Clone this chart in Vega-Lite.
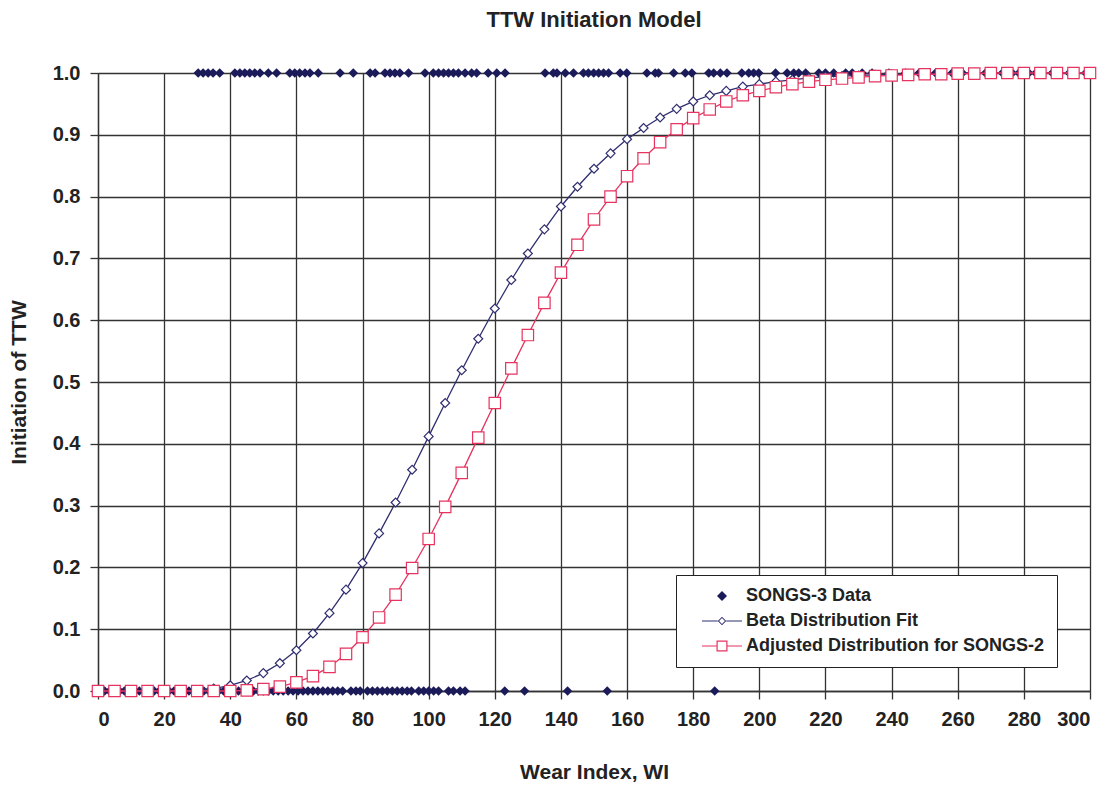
{
  "$schema": "https://vega.github.io/schema/vega-lite/v6.json",
  "width": 992,
  "height": 618,
  "autosize": {"type": "none"},
  "padding": {"left": 98, "top": 73, "right": 26, "bottom": 97},
  "background": "white",
  "title": {"text": "TTW Initiation Model", "font": "Liberation Sans", "fontSize": 22, "fontWeight": "bold", "color": "#222222", "frame": "group", "anchor": "middle", "offset": 31},
  "config": {
    "view": {"stroke": null},
    "axis": {
      "labelFont": "Liberation Sans", "labelFontSize": 20, "labelFontWeight": "bold", "labelColor": "#222222",
      "titleFont": "Liberation Sans", "titleFontSize": 21, "titleFontWeight": "bold", "titleColor": "#222222",
      "grid": true, "gridColor": "#333333", "gridWidth": 1.3, "gridOpacity": 1,
      "domainColor": "#333333", "domainWidth": 1.3,
      "tickColor": "#333333", "tickSize": 8, "tickWidth": 1.3, "labelPadding": 10
    },
    "legend": {
      "orient": "none", "legendX": 578, "legendY": 502, "title": null,
      "padding": 12, "strokeColor": "#222222", "fillColor": "white",
      "labelFont": "Liberation Sans", "labelFontSize": 18, "labelFontWeight": "bold", "labelColor": "#222222", "labelLimit": 500,
      "symbolOffset": 25, "labelOffset": 15, "rowPadding": 7, "symbolSize": 100, "symbolOpacity": 1
    }
  },
  "datasets": {
    "beta": [
      {"wi": 0, "p": 0}, {"wi": 5, "p": 0}, {"wi": 10, "p": 0}, {"wi": 15, "p": 0}, {"wi": 20, "p": 0}, {"wi": 25, "p": 0},
      {"wi": 30, "p": 0.001}, {"wi": 35, "p": 0.004}, {"wi": 40, "p": 0.009}, {"wi": 45, "p": 0.017}, {"wi": 50, "p": 0.029},
      {"wi": 55, "p": 0.045}, {"wi": 60, "p": 0.066}, {"wi": 65, "p": 0.093}, {"wi": 70, "p": 0.126}, {"wi": 75, "p": 0.164},
      {"wi": 80, "p": 0.207}, {"wi": 85, "p": 0.255}, {"wi": 90, "p": 0.305}, {"wi": 95, "p": 0.358}, {"wi": 100, "p": 0.412},
      {"wi": 105, "p": 0.466}, {"wi": 110, "p": 0.519}, {"wi": 115, "p": 0.570}, {"wi": 120, "p": 0.619}, {"wi": 125, "p": 0.665},
      {"wi": 130, "p": 0.708}, {"wi": 135, "p": 0.747}, {"wi": 140, "p": 0.784}, {"wi": 145, "p": 0.816}, {"wi": 150, "p": 0.845},
      {"wi": 155, "p": 0.870}, {"wi": 160, "p": 0.893}, {"wi": 165, "p": 0.911}, {"wi": 170, "p": 0.928}, {"wi": 175, "p": 0.942},
      {"wi": 180, "p": 0.954}, {"wi": 185, "p": 0.964}, {"wi": 190, "p": 0.971}, {"wi": 195, "p": 0.978}, {"wi": 200, "p": 0.982},
      {"wi": 205, "p": 0.986}, {"wi": 210, "p": 0.989}, {"wi": 215, "p": 0.992}, {"wi": 220, "p": 0.994}, {"wi": 225, "p": 0.995},
      {"wi": 230, "p": 0.996}, {"wi": 235, "p": 0.997}, {"wi": 240, "p": 0.998}, {"wi": 245, "p": 0.998}, {"wi": 250, "p": 0.999},
      {"wi": 255, "p": 0.999}, {"wi": 260, "p": 1}, {"wi": 265, "p": 1}, {"wi": 270, "p": 1}, {"wi": 275, "p": 1},
      {"wi": 280, "p": 1}, {"wi": 285, "p": 1}, {"wi": 290, "p": 1}, {"wi": 295, "p": 1}, {"wi": 300, "p": 1}
    ],
    "adj": [
      {"wi": 0, "p": 0}, {"wi": 5, "p": 0}, {"wi": 10, "p": 0}, {"wi": 15, "p": 0}, {"wi": 20, "p": 0}, {"wi": 25, "p": 0},
      {"wi": 30, "p": 0}, {"wi": 35, "p": 0}, {"wi": 40, "p": 0}, {"wi": 45, "p": 0.001}, {"wi": 50, "p": 0.003},
      {"wi": 55, "p": 0.007}, {"wi": 60, "p": 0.014}, {"wi": 65, "p": 0.024}, {"wi": 70, "p": 0.039}, {"wi": 75, "p": 0.060},
      {"wi": 80, "p": 0.087}, {"wi": 85, "p": 0.119}, {"wi": 90, "p": 0.156}, {"wi": 95, "p": 0.199}, {"wi": 100, "p": 0.246},
      {"wi": 105, "p": 0.298}, {"wi": 110, "p": 0.353}, {"wi": 115, "p": 0.410}, {"wi": 120, "p": 0.466}, {"wi": 125, "p": 0.522},
      {"wi": 130, "p": 0.576}, {"wi": 135, "p": 0.628}, {"wi": 140, "p": 0.677}, {"wi": 145, "p": 0.722}, {"wi": 150, "p": 0.763},
      {"wi": 155, "p": 0.800}, {"wi": 160, "p": 0.833}, {"wi": 165, "p": 0.862}, {"wi": 170, "p": 0.888}, {"wi": 175, "p": 0.909},
      {"wi": 180, "p": 0.927}, {"wi": 185, "p": 0.941}, {"wi": 190, "p": 0.954}, {"wi": 195, "p": 0.964}, {"wi": 200, "p": 0.971},
      {"wi": 205, "p": 0.977}, {"wi": 210, "p": 0.982}, {"wi": 215, "p": 0.986}, {"wi": 220, "p": 0.989}, {"wi": 225, "p": 0.991},
      {"wi": 230, "p": 0.993}, {"wi": 235, "p": 0.995}, {"wi": 240, "p": 0.996}, {"wi": 245, "p": 0.997}, {"wi": 250, "p": 0.998},
      {"wi": 255, "p": 0.998}, {"wi": 260, "p": 0.999}, {"wi": 265, "p": 0.999}, {"wi": 270, "p": 1}, {"wi": 275, "p": 1},
      {"wi": 280, "p": 1}, {"wi": 285, "p": 1}, {"wi": 290, "p": 1}, {"wi": 295, "p": 1}, {"wi": 300, "p": 1}
    ],
    "obs": [
      {"wi": 30.3, "p": 1}, {"wi": 31.8, "p": 1}, {"wi": 33.3, "p": 1}, {"wi": 34.8, "p": 1}, {"wi": 36.8, "p": 1},
      {"wi": 41.4, "p": 1}, {"wi": 42.9, "p": 1}, {"wi": 44.4, "p": 1}, {"wi": 45.9, "p": 1}, {"wi": 47.4, "p": 1},
      {"wi": 49, "p": 1}, {"wi": 51.5, "p": 1}, {"wi": 54, "p": 1}, {"wi": 58, "p": 1}, {"wi": 59.5, "p": 1},
      {"wi": 61, "p": 1}, {"wi": 62.6, "p": 1}, {"wi": 64.1, "p": 1}, {"wi": 66.6, "p": 1}, {"wi": 73.2, "p": 1},
      {"wi": 77.2, "p": 1}, {"wi": 82.3, "p": 1}, {"wi": 83.8, "p": 1}, {"wi": 86.8, "p": 1}, {"wi": 88.3, "p": 1},
      {"wi": 89.8, "p": 1}, {"wi": 91.3, "p": 1}, {"wi": 93.9, "p": 1}, {"wi": 98.9, "p": 1}, {"wi": 101.4, "p": 1},
      {"wi": 103, "p": 1}, {"wi": 104.5, "p": 1}, {"wi": 106, "p": 1}, {"wi": 107.5, "p": 1}, {"wi": 109, "p": 1},
      {"wi": 111, "p": 1}, {"wi": 113, "p": 1}, {"wi": 114.5, "p": 1}, {"wi": 118, "p": 1}, {"wi": 120.6, "p": 1},
      {"wi": 123.1, "p": 1}, {"wi": 135.2, "p": 1}, {"wi": 137.7, "p": 1}, {"wi": 138.8, "p": 1}, {"wi": 141.3, "p": 1},
      {"wi": 143.8, "p": 1}, {"wi": 146.8, "p": 1}, {"wi": 148.3, "p": 1}, {"wi": 149.9, "p": 1}, {"wi": 151.4, "p": 1},
      {"wi": 152.9, "p": 1}, {"wi": 154.4, "p": 1}, {"wi": 157.9, "p": 1}, {"wi": 159.9, "p": 1}, {"wi": 166, "p": 1},
      {"wi": 168.5, "p": 1}, {"wi": 169.5, "p": 1}, {"wi": 174.1, "p": 1}, {"wi": 177.6, "p": 1}, {"wi": 179.6, "p": 1},
      {"wi": 184.7, "p": 1}, {"wi": 186.2, "p": 1}, {"wi": 188.2, "p": 1}, {"wi": 190.2, "p": 1}, {"wi": 194.7, "p": 1},
      {"wi": 196.8, "p": 1}, {"wi": 198.3, "p": 1}, {"wi": 199.8, "p": 1}, {"wi": 204.9, "p": 1}, {"wi": 208.4, "p": 1},
      {"wi": 210.4, "p": 1}, {"wi": 211.9, "p": 1}, {"wi": 214, "p": 1}, {"wi": 218, "p": 1}, {"wi": 220, "p": 1},
      {"wi": 222.5, "p": 1}, {"wi": 226.1, "p": 1}, {"wi": 228.1, "p": 1}, {"wi": 231.1, "p": 1}, {"wi": 234.1, "p": 1},
      {"wi": 239.2, "p": 1}, {"wi": 244.2, "p": 1}, {"wi": 248.3, "p": 1}, {"wi": 250.3, "p": 1}, {"wi": 253.3, "p": 1},
      {"wi": 258.3, "p": 1}, {"wi": 261.4, "p": 1}, {"wi": 264.4, "p": 1}, {"wi": 268.4, "p": 1}, {"wi": 273.5, "p": 1},
      {"wi": 276.5, "p": 1}, {"wi": 278.5, "p": 1}, {"wi": 281.5, "p": 1}, {"wi": 283.6, "p": 1}, {"wi": 288.6, "p": 1},
      {"wi": 293.7, "p": 1}, {"wi": 298.7, "p": 1},
      {"wi": 2, "p": 0}, {"wi": 3.5, "p": 0}, {"wi": 5, "p": 0}, {"wi": 6.5, "p": 0}, {"wi": 8, "p": 0},
      {"wi": 9.5, "p": 0}, {"wi": 11, "p": 0}, {"wi": 12.5, "p": 0}, {"wi": 14, "p": 0}, {"wi": 15.5, "p": 0},
      {"wi": 17, "p": 0}, {"wi": 18.5, "p": 0}, {"wi": 20, "p": 0}, {"wi": 21.5, "p": 0}, {"wi": 23, "p": 0},
      {"wi": 24.5, "p": 0}, {"wi": 26, "p": 0}, {"wi": 27.5, "p": 0}, {"wi": 29, "p": 0}, {"wi": 30.5, "p": 0},
      {"wi": 32, "p": 0}, {"wi": 33.5, "p": 0}, {"wi": 35, "p": 0}, {"wi": 36.5, "p": 0}, {"wi": 38, "p": 0},
      {"wi": 39.5, "p": 0}, {"wi": 41, "p": 0}, {"wi": 42.5, "p": 0}, {"wi": 44, "p": 0}, {"wi": 45.5, "p": 0},
      {"wi": 47, "p": 0}, {"wi": 48.5, "p": 0}, {"wi": 50, "p": 0}, {"wi": 51.5, "p": 0}, {"wi": 53, "p": 0},
      {"wi": 54.5, "p": 0}, {"wi": 56, "p": 0}, {"wi": 57.5, "p": 0}, {"wi": 59, "p": 0}, {"wi": 60.5, "p": 0},
      {"wi": 62, "p": 0}, {"wi": 63.5, "p": 0}, {"wi": 65, "p": 0}, {"wi": 66.5, "p": 0}, {"wi": 68, "p": 0},
      {"wi": 69.5, "p": 0}, {"wi": 71, "p": 0}, {"wi": 72.5, "p": 0}, {"wi": 74, "p": 0}, {"wi": 76.5, "p": 0},
      {"wi": 78, "p": 0}, {"wi": 79.3, "p": 0}, {"wi": 81.5, "p": 0}, {"wi": 83, "p": 0}, {"wi": 84.5, "p": 0},
      {"wi": 86, "p": 0}, {"wi": 87.5, "p": 0}, {"wi": 89, "p": 0}, {"wi": 90.5, "p": 0}, {"wi": 92, "p": 0},
      {"wi": 93.5, "p": 0}, {"wi": 94.8, "p": 0}, {"wi": 97, "p": 0}, {"wi": 98.5, "p": 0}, {"wi": 100, "p": 0},
      {"wi": 101.5, "p": 0}, {"wi": 103, "p": 0}, {"wi": 106, "p": 0}, {"wi": 107.5, "p": 0}, {"wi": 109.5, "p": 0},
      {"wi": 111, "p": 0}, {"wi": 123, "p": 0}, {"wi": 129, "p": 0}, {"wi": 142, "p": 0}, {"wi": 154, "p": 0},
      {"wi": 186.5, "p": 0}
    ]
  },
  "encoding": {
    "x": {"field": "wi", "type": "quantitative", "scale": {"domain": [0, 300], "nice": false},
      "axis": {"values": [0, 20, 40, 60, 80, 100, 120, 140, 160, 180, 200, 220, 240, 260, 280, 300], "title": "Wear Index, WI", "titlePadding": 32}},
    "y": {"field": "p", "type": "quantitative", "scale": {"domain": [0, 1], "nice": false},
      "axis": {"values": [0, 0.1, 0.2, 0.3, 0.4, 0.5, 0.6, 0.7, 0.8, 0.9, 1], "format": ".1f", "title": "Initiation of TTW", "titlePadding": 23}}
  },
  "layer": [
    {
      "data": {"name": "obs"},
      "mark": {"type": "point", "filled": true, "size": 90, "opacity": 1},
      "encoding": {
        "color": {"datum": "SONGS-3 Data", "type": "nominal",
          "scale": {"domain": ["SONGS-3 Data", "Beta Distribution Fit", "Adjusted Distribution for SONGS-2"], "range": ["#1c1b5a", "#2f2e6f", "#e6335f"]},
          "legend": {"title": null}
        },
        "shape": {"datum": "SONGS-3 Data", "type": "nominal",
          "scale": {"domain": ["SONGS-3 Data", "Beta Distribution Fit", "Adjusted Distribution for SONGS-2"],
            "range": [
              "diamond",
              "M-4,-0.12H-0.85V0.12H-4ZM0.85,-0.12H4V0.12H0.85ZM0,-0.85L0.85,0L0,0.85L-0.85,0ZM0,-0.58L-0.58,0L0,0.58L0.58,0Z",
              "M-4,-0.12H-1.1V0.12H-4ZM1.1,-0.12H4V0.12H1.1ZM-1.1,-1.1H1.1V1.1H-1.1ZM-0.86,-0.86V0.86H0.86V-0.86Z"
            ]},
          "legend": {"title": null}
        }
      }
    },
    {
      "data": {"name": "beta"},
      "mark": {"type": "line", "strokeWidth": 1.3, "color": "#2f2e6f"},
      "encoding": {}
    },
    {
      "data": {"name": "beta"},
      "mark": {"type": "point", "shape": "diamond", "filled": true, "fill": "white", "stroke": "#2f2e6f", "strokeWidth": 1.2, "size": 80, "opacity": 1}
    },
    {
      "data": {"name": "adj"},
      "mark": {"type": "line", "strokeWidth": 1.3, "color": "#e6335f"},
      "encoding": {}
    },
    {
      "data": {"name": "adj"},
      "mark": {"type": "point", "shape": "square", "filled": true, "fill": "white", "stroke": "#e6335f", "strokeWidth": 1.2, "size": 130, "opacity": 1}
    }
  ]
}
